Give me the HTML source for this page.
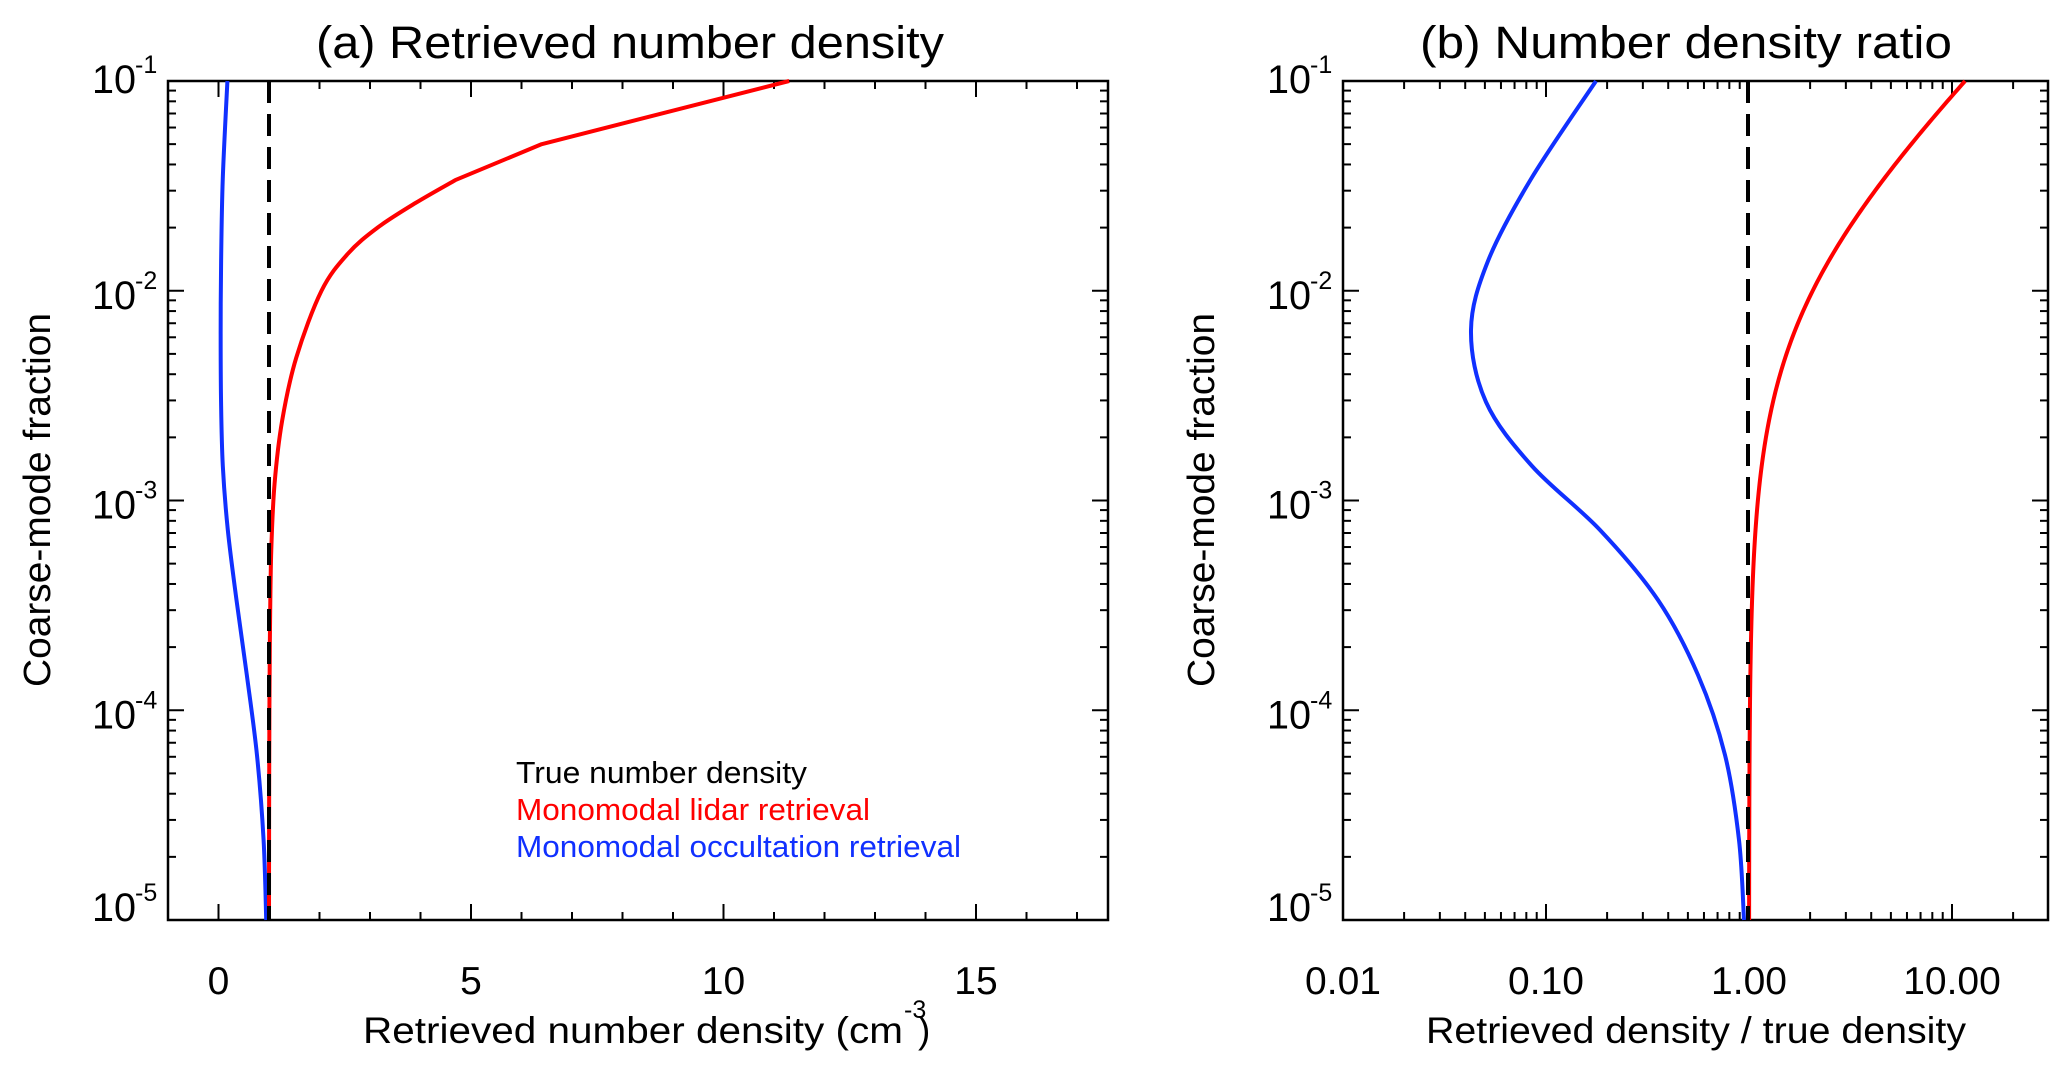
<!DOCTYPE html>
<html><head><meta charset="utf-8">
<style>
html,body{margin:0;padding:0;background:#fff;}
svg{display:block;}
text{font-family:"Liberation Sans",Arial,sans-serif;fill:#000;}
</style></head>
<body>
<svg id="s" width="2067" height="1077" viewBox="0 0 2067 1077" xmlns="http://www.w3.org/2000/svg">
<rect width="2067" height="1077" fill="#fff"/>
<text x="630" y="58" font-size="45" text-anchor="middle" textLength="628" lengthAdjust="spacingAndGlyphs">(a) Retrieved number density</text>
<text x="1686" y="58" font-size="45" text-anchor="middle" textLength="532" lengthAdjust="spacingAndGlyphs">(b) Number density ratio</text>
<text transform="translate(50,500) rotate(-90)" font-size="38" text-anchor="middle" textLength="374" lengthAdjust="spacingAndGlyphs">Coarse-mode fraction</text>
<text transform="translate(1214,500) rotate(-90)" font-size="38" text-anchor="middle" textLength="374" lengthAdjust="spacingAndGlyphs">Coarse-mode fraction</text>
<text x="363" y="1043" font-size="37" textLength="540" lengthAdjust="spacingAndGlyphs">Retrieved number density (cm</text>
<text x="904" y="1018" font-size="25">-3</text>
<text x="918" y="1043" font-size="37">)</text>
<text x="1696" y="1043" font-size="37" text-anchor="middle" textLength="540" lengthAdjust="spacingAndGlyphs">Retrieved density / true density</text>
<text x="516" y="783" font-size="31" textLength="291" lengthAdjust="spacingAndGlyphs">True number density</text>
<text x="516" y="820" font-size="31" style="fill:#ff0000" textLength="354" lengthAdjust="spacingAndGlyphs">Monomodal lidar retrieval</text>
<text x="516" y="857" font-size="31" style="fill:#1030ff" textLength="445" lengthAdjust="spacingAndGlyphs">Monomodal occultation retrieval</text>
<g id="g"></g>
</svg>
<script>
var NS="http://www.w3.org/2000/svg",g=document.getElementById('g');
function el(t,a,txt){var e=document.createElementNS(NS,t);for(var k in a)e.setAttribute(k,a[k]);if(txt!=null)e.textContent=txt;g.appendChild(e);return e;}
var T=81,B=920,D=209.75;
function Y(f){return T+(-1-Math.log10(f))*D;}
function line(x1,y1,x2,y2,w){el('line',{x1:x1,y1:y1,x2:x2,y2:y2,stroke:'#000','stroke-width':w||2});}
function yaxis(L,R){
  for(var e=-5;e<=-1;e++){
    for(var m=1;m<=9;m++){
      var f=m*Math.pow(10,e); if(f>0.1+1e-9)break;
      var y=Y(f),len=(m==1)?16:8;
      line(L,y,L+len,y,2);line(R,y,R-len,y,2);
    }
    var yy=Y(Math.pow(10,e)), base=(e==-5)?921:(e==-1?93:yy+18);
    el('text',{x:L-76,y:base,'font-size':40,textLength:44,lengthAdjust:'spacingAndGlyphs'},'10');
    el('text',{x:L-33,y:base-20,'font-size':25},''+e);
  }
}
function frame(L,R){el('rect',{x:L,y:T,width:R-L,height:B-T,fill:'none',stroke:'#000','stroke-width':2.5});}
var aL=168,aR=1108;function XA(v){return 218.5+v*50.5;}
frame(aL,aR);yaxis(aL,aR);
for(var v=-1;v<=17;v++){var x=XA(v);if(x<=aL+1||x>=aR-1)continue;var len=(v%5==0)?16:8;line(x,B,x,B-len,2);line(x,T,x,T+len,2);}
[0,5,10,15].forEach(function(v){el('text',{x:XA(v),y:994,'font-size':39,'text-anchor':'middle'},''+v);});
var bL=1343,bR=2048;function XB(r){return bL+(Math.log10(r)+2)*203;}
frame(bL,bR);yaxis(bL,bR);
for(var e=-2;e<=1;e++)for(var m=1;m<=9;m++){var r=m*Math.pow(10,e),x=XB(r);if(x<=bL+1||x>=bR-1)continue;var len=(m==1)?16:8;line(x,B,x,B-len,2);line(x,T,x,T+len,2);}
[['0.01',0.01],['0.10',0.1],['1.00',1],['10.00',10]].forEach(function(p){el('text',{x:XB(p[1]),y:994,'font-size':39,'text-anchor':'middle'},p[0]);});
function cr(pts){var d='M'+pts[0][0]+','+pts[0][1];for(var i=0;i<pts.length-1;i++){var p0=pts[i-1]||pts[i],p1=pts[i],p2=pts[i+1],p3=pts[i+2]||p2;
d+=' C'+(p1[0]+(p2[0]-p0[0])/6)+','+(p1[1]+(p2[1]-p0[1])/6)+' '+(p2[0]-(p3[0]-p1[0])/6)+','+(p2[1]-(p3[1]-p1[1])/6)+' '+p2[0]+','+p2[1];}return d;}
function path(d,c){el('path',{d:d,fill:'none',stroke:c,'stroke-width':4,'stroke-linejoin':'round'});}
var red=[[0.1,11.3],[0.05,6.4],[0.0337,4.69],[0.0262,3.9],[0.02,3.15],[0.015,2.56],[0.01,2.04],[0.0048,1.54],[0.0024,1.26],[0.0012,1.11],[5.8e-4,1.045],[2.5e-4,1.02],[1e-4,1.008],[3e-5,1.002],[1e-5,1.0]];
var blueB=[[1596,81],[1531,179],[1488,261],[1471,330],[1486,402],[1532,466],[1600,530],[1658,600],[1698,675],[1725,755],[1739,840],[1744,920]];
var blueA=blueB.map(function(p){var r=Math.pow(10,(p[0]-1343)/203-2);return [XA(r),p[1]];});
path(cr(blueA),'#1030ff');
var redA=red.map(function(p){return [XA(p[1]),Y(p[0])];});
path('M'+redA[0][0]+','+redA[0][1]+' L'+redA[1][0]+','+redA[1][1]+' L'+redA[2][0]+','+redA[2][1]+' '+cr(redA.slice(2)).replace(/^M[^C]*/,''),'#ff0000');
el('line',{x1:269,y1:81,x2:269,y2:920,stroke:'#000','stroke-width':4,'stroke-dasharray':'22,11'});
path(cr(blueB),'#1030ff');
var pts=[];for(var i=0;i<=200;i++){var u=-1-4*i/200,f=Math.pow(10,u),r=1+106*f;pts.push((i?'L':'M')+XB(r).toFixed(2)+','+Y(f).toFixed(2));}
path(pts.join(' '),'#ff0000');
el('line',{x1:1748,y1:81,x2:1748,y2:920,stroke:'#000','stroke-width':4,'stroke-dasharray':'22,11'});
</script>
</body></html>
